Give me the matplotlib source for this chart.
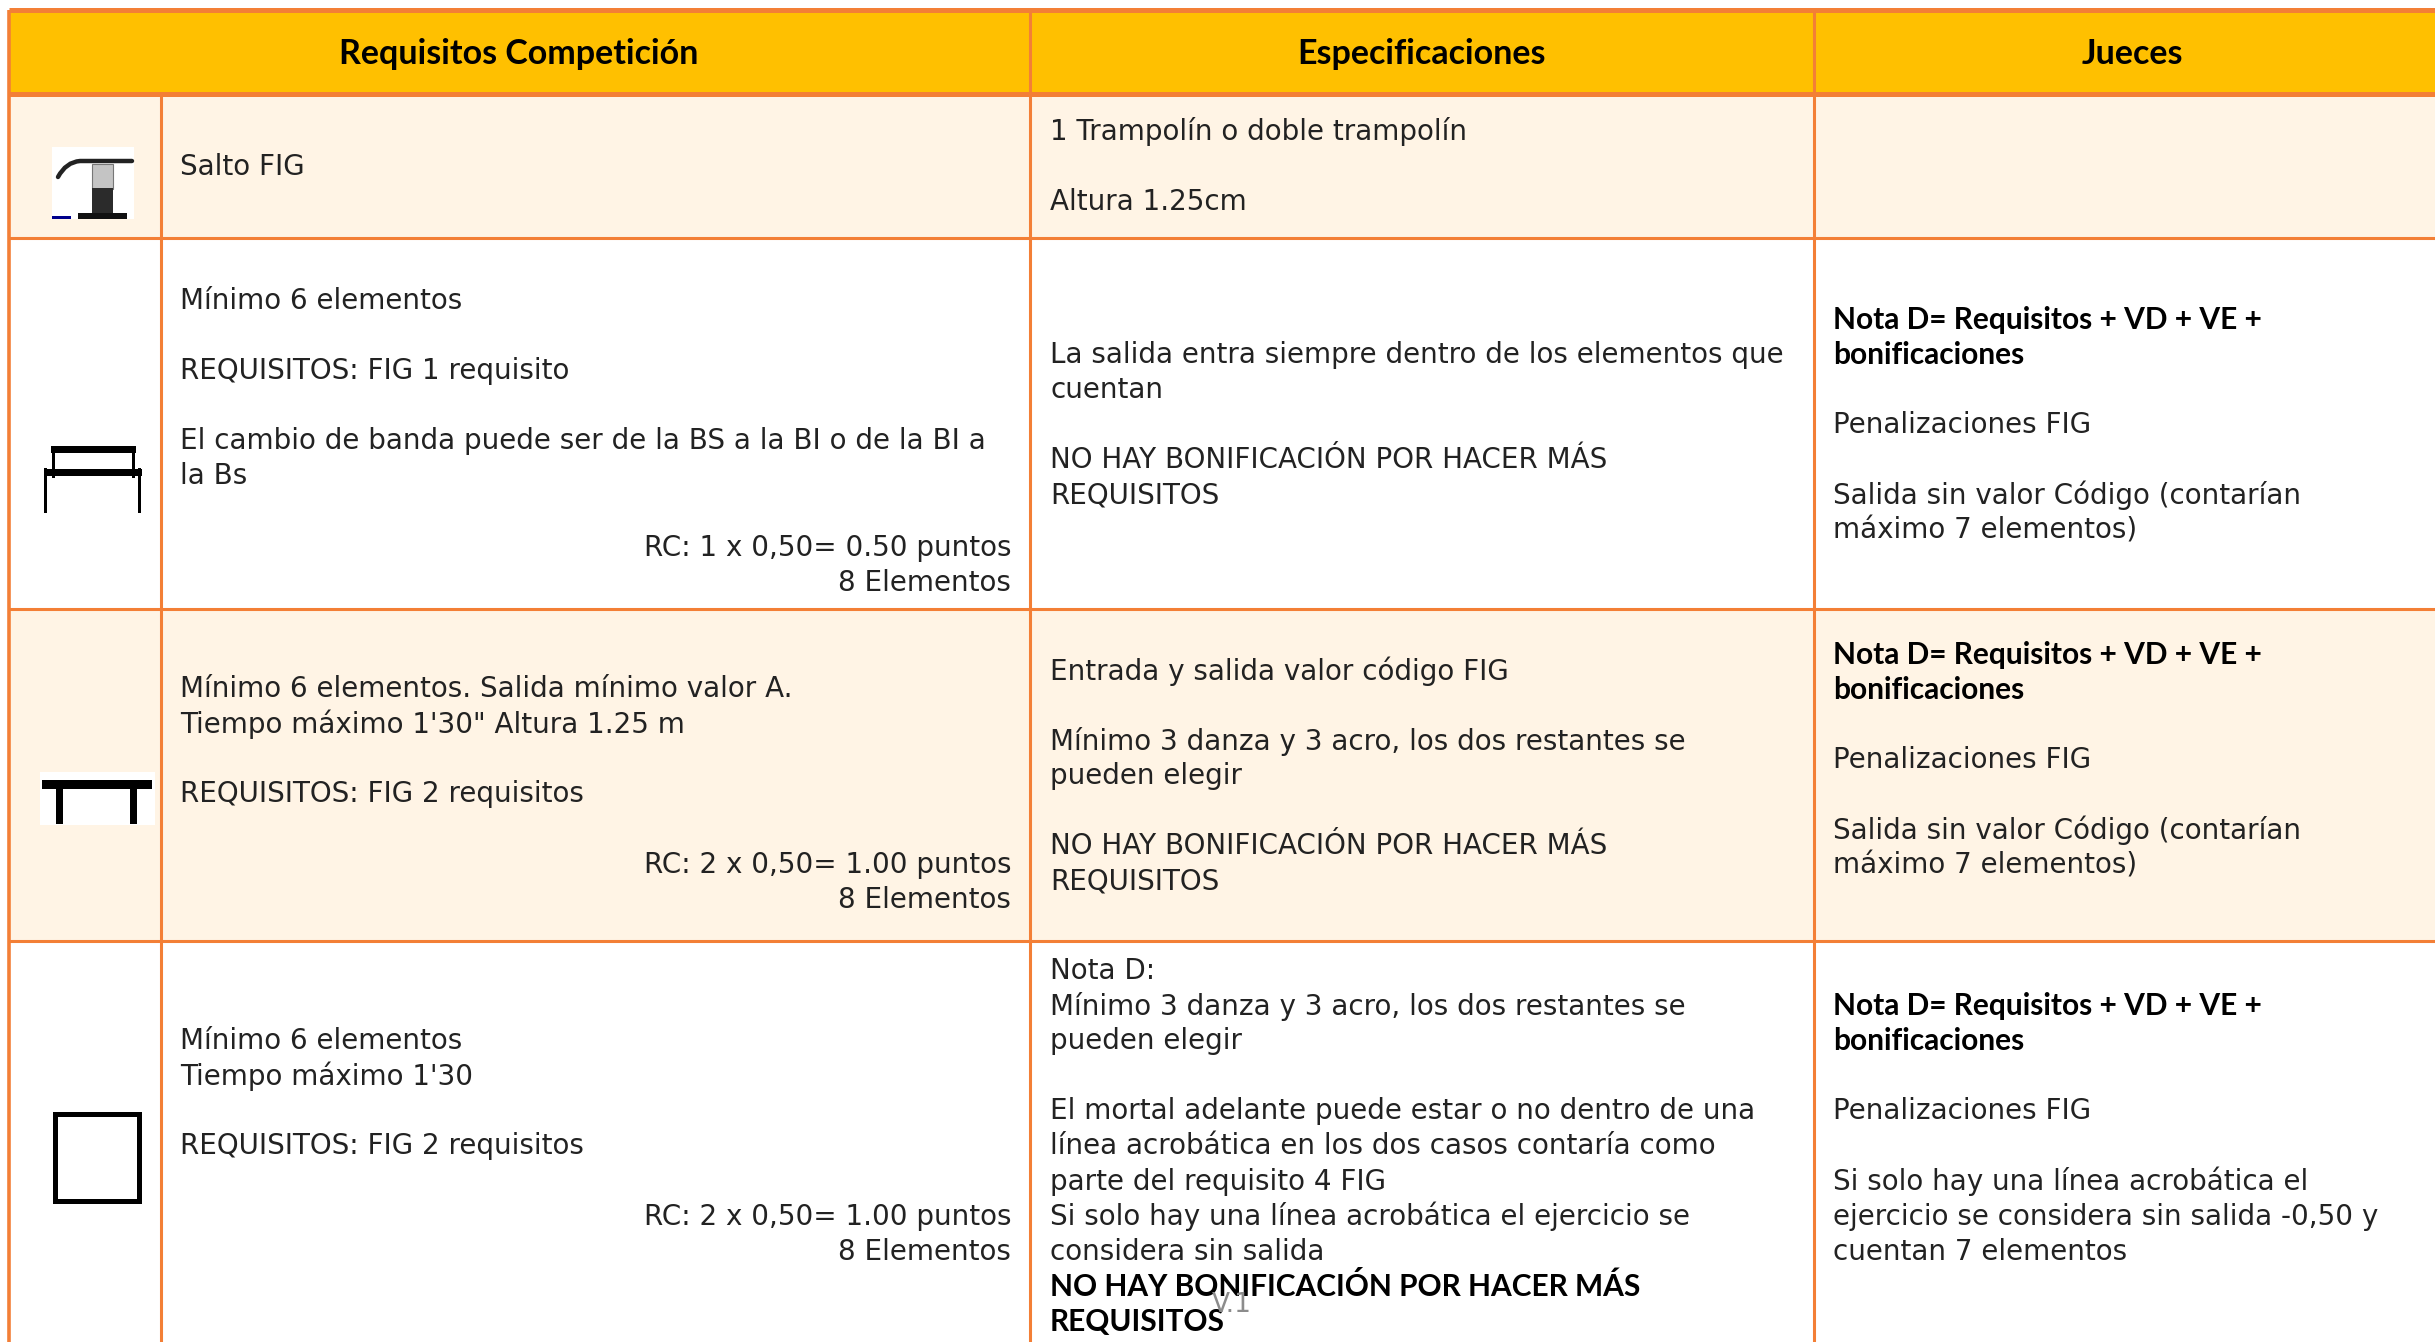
import matplotlib.pyplot as plt
from matplotlib.patches import Rectangle, PathPatch
from matplotlib.path import Path

plt.rcParams['font.family'] = ['DejaVu Sans']

W, H = 2435, 1342
ORANGE = '#F37F36'
HEADER = '#FFC000'
TINT = '#FFF4E5'

headers = ['Requisitos Competición', 'Especificaciones', 'Jueces']

# text of each cell, '' is an empty line, ** marks bold lines
req_left = [
    ['Salto FIG'],
    ['Mínimo 6 elementos', '', 'REQUISITOS: FIG 1 requisito', '',
     'El cambio de banda puede ser de la BS a la BI o de la BI a', 'la Bs'],
    ['Mínimo 6 elementos. Salida mínimo valor A.', 'Tiempo máximo 1\'30" Altura 1.25 m', '',
     'REQUISITOS: FIG 2 requisitos'],
    ['Mínimo 6 elementos', 'Tiempo máximo 1\'30', '', 'REQUISITOS: FIG 2 requisitos'],
]
req_right = [
    [],
    ['RC: 1 x 0,50= 0.50 puntos', '8 Elementos'],
    ['RC: 2 x 0,50= 1.00 puntos', '8 Elementos'],
    ['RC: 2 x 0,50= 1.00 puntos', '8 Elementos'],
]
spec = [
    ['1 Trampolín o doble trampolín', '', 'Altura 1.25cm'],
    ['La salida entra siempre dentro de los elementos que', 'cuentan', '',
     'NO HAY BONIFICACIÓN POR HACER MÁS', 'REQUISITOS'],
    ['Entrada y salida valor código FIG', '',
     'Mínimo 3 danza y 3 acro, los dos restantes se', 'pueden elegir', '',
     'NO HAY BONIFICACIÓN POR HACER MÁS', 'REQUISITOS'],
    ['Nota D:', 'Mínimo 3 danza y 3 acro, los dos restantes se', 'pueden elegir', '',
     'El mortal adelante puede estar o no dentro de una',
     'línea acrobática en los dos casos contaría como', 'parte del requisito 4 FIG',
     'Si solo hay una línea acrobática el ejercicio se', 'considera sin salida',
     '**NO HAY BONIFICACIÓN POR HACER MÁS', '**REQUISITOS'],
]
jueces = [
    [],
    ['**Nota D= Requisitos + VD + VE +', '**bonificaciones', '', 'Penalizaciones FIG', '',
     'Salida sin valor Código (contarían', 'máximo 7 elementos)'],
    ['**Nota D= Requisitos + VD + VE +', '**bonificaciones', '', 'Penalizaciones FIG', '',
     'Salida sin valor Código (contarían', 'máximo 7 elementos)'],
    ['**Nota D= Requisitos + VD + VE +', '**bonificaciones', '', 'Penalizaciones FIG', '',
     'Si solo hay una línea acrobática el', 'ejercicio se considera sin salida -0,50 y',
     'cuentan 7 elementos'],
]

# table grid in pixels
col_x = [9, 161, 1030, 1814, W + 10]
row_y = [10, 94, 238, 609, 941, H + 10]
LINE = 35.1
FS = 20
FS_BOLD = 21.5

# y of the first line of each block, per row
req_left_y = [166, 300, 688, 1040]
req_right_y = [0, 547, 864, 1216]
spec_y = [131, 354, 670, 970]
jueces_y = [0, 319, 654, 1005]

fig = plt.figure(figsize=(W / 100, H / 100), dpi=100)
ax = fig.add_axes([0, 0, 1, 1])
ax.set_xlim(0, W)
ax.set_ylim(H, 0)
ax.axis('off')


def block(x, y, lines, ha='left'):
    for i, s in enumerate(lines):
        if not s:
            continue
        if s.startswith('**'):
            ax.text(x, y + i * LINE + 1, s.lstrip('*'), ha=ha, va='center', fontsize=FS_BOLD,
                    fontweight='bold', family='Lato', color='black')
        else:
            ax.text(x, y + i * LINE + 1, s, ha=ha, va='center', fontsize=FS, color='#222222')


# fills
ax.add_patch(Rectangle((col_x[0], row_y[0]), W, row_y[1] - row_y[0], fc=HEADER, ec='none'))
for r in range(4):
    if r % 2 == 0:
        ax.add_patch(Rectangle((col_x[0], row_y[r + 1]), W, row_y[r + 2] - row_y[r + 1], fc=TINT, ec='none'))

# grid lines
for y in row_y[:-1]:
    ax.plot([col_x[0], W], [y, y], color=ORANGE, lw=3.6 if y in row_y[:2] else 2.2, solid_capstyle='butt')
for x in col_x[:4]:
    top = row_y[1] if x == col_x[1] else row_y[0]
    ax.plot([x, x], [top, H], color=ORANGE, lw=2.2 if x != col_x[0] else 2.6, solid_capstyle='butt')

# header
header_x = [519, 1422, 2132]
for x, s in zip(header_x, headers):
    ax.text(x, 54, s, ha='center', va='center', fontsize=24.5, fontweight='bold', family='Lato', color='black')

# body
for r in range(4):
    block(col_x[1] + 19, req_left_y[r], req_left[r])
    block(col_x[2] - 19, req_right_y[r], req_right[r], ha='right')
    block(col_x[2] + 20, spec_y[r], spec[r])
    block(col_x[3] + 19, jueces_y[r], jueces[r])

# icon 1: vault
ax.add_patch(Rectangle((52, 147), 82, 72, fc='white', ec='none'))
curve = Path([(58, 177), (66, 162), (80, 161), (90, 161), (132, 161)],
             [Path.MOVETO, Path.CURVE3, Path.CURVE3, Path.LINETO, Path.LINETO])
ax.add_patch(PathPatch(curve, fc='none', ec='#222222', lw=3.2, capstyle='round'))
ax.add_patch(Rectangle((92, 164), 21, 25, fc='#c4c4c4', ec='#777777', lw=0.8))
ax.add_patch(Rectangle((92, 188), 21, 26, fc='#2b2b2b', ec='none'))
ax.add_patch(Rectangle((78, 213), 49, 6, fc='#111111', ec='none'))
ax.add_patch(Rectangle((52, 216), 19, 3, fc='#00008b', ec='none'))

# icon 2: uneven bars
for x0, x1, y0, y1 in [(51, 136, 446, 453), (44, 142, 469, 476), (52, 55, 447, 478), (132, 135, 447, 478),
                       (44, 47, 468, 513), (138, 141, 468, 513)]:
    ax.add_patch(Rectangle((x0, y0), x1 - x0, y1 - y0, fc='black', ec='none'))

# icon 3: beam
ax.add_patch(Rectangle((40, 772), 115, 53, fc='white', ec='none'))
for x0, x1, y0, y1 in [(42, 152, 780, 789), (56, 63, 785, 824), (130, 137, 785, 824)]:
    ax.add_patch(Rectangle((x0, y0), x1 - x0, y1 - y0, fc='black', ec='none'))

# icon 4: floor
ax.add_patch(Rectangle((55, 1114), 84, 87, fc='white', ec='black', lw=3.6))

ax.text(1232, 1305, 'V.1', ha='center', va='center', fontsize=19, color='#8c8c8c')

fig.savefig('out.png', dpi=100)
